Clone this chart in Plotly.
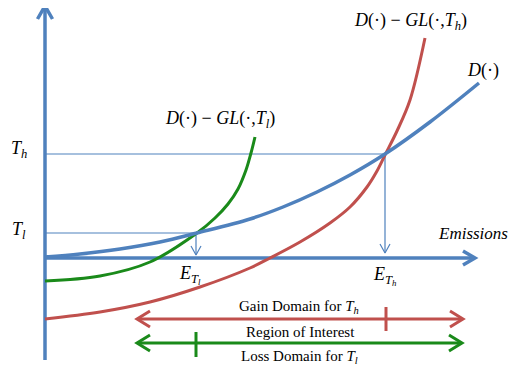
import plotly.graph_objects as go

# ---- data (pixel-like diagram coordinates) ----
d_x = [45, 80, 120, 160, 197, 250, 283, 317, 350, 385, 430, 479]
d_y = [257, 254, 249, 242, 233, 219, 207, 192, 175, 154, 122, 83]

gl_l_x = [45, 100, 150, 197, 215, 228, 238, 246, 251, 255]
gl_l_y = [281, 276, 262, 233, 218, 204, 189, 170, 153, 137]

gl_h_x = [45, 100, 150, 200, 250, 270, 300, 330, 350, 367, 377, 385, 397, 410, 425]
gl_h_y = [319, 312, 302, 287, 268, 258, 242, 223, 207, 187, 171, 155, 131, 100, 38]

origin = (45, 258)
x_axis_end = 475
y_axis_top = 6
y_axis_bottom = 360
t_h_level = 154
t_l_level = 233
e_t_h = 385
e_t_l = 196

gain_y, gain_x0, gain_x1, gain_tick = 319, 137, 463, 386
loss_y, loss_x0, loss_x1, loss_tick = 343, 137, 462, 196

BLUE = "#4F81BD"
RED = "#C0504D"
GREEN = "#1A8A1A"
FONT = "Liberation Serif"
PAGE_OFFSET = 8  # browser body margin

fig = go.Figure()


def line(xs, ys, color, width, shape="linear"):
    fig.add_trace(go.Scatter(x=xs, y=ys, mode="lines",
                             line=dict(color=color, width=width, shape=shape),
                             hoverinfo="skip", showlegend=False))


def chevron(tx, ty, dx, dy, L, W, color, width):
    px, py = -dy, dx
    xs = [tx - L * dx + W * px, tx, tx - L * dx - W * px]
    ys = [ty - L * dy + W * py, ty, ty - L * dy - W * py]
    line(xs, ys, color, width)


# guide lines
line([origin[0], e_t_h, e_t_h], [t_h_level, t_h_level, 253], BLUE, 1.2)
line([origin[0], e_t_l, e_t_l], [t_l_level, t_l_level, 255], BLUE, 1.2)
chevron(e_t_h, 253, 0, 1, 9, 5, BLUE, 1.2)
chevron(e_t_l, 255, 0, 1, 9, 5, BLUE, 1.2)

# axes
line([origin[0], origin[0]], [y_axis_bottom, y_axis_top + 1], BLUE, 3.5)
chevron(origin[0], y_axis_top, 0, -1, 13, 7.5, BLUE, 3.5)
line([origin[0], x_axis_end - 1], [origin[1], origin[1]], BLUE, 3.5)
chevron(x_axis_end, origin[1], 1, 0, 12, 7, BLUE, 3.5)

# curves
line(gl_h_x, gl_h_y, RED, 3, "spline")
line(gl_l_x, gl_l_y, GREEN, 3, "spline")
line(d_x, d_y, BLUE, 3.5, "spline")

# domain arrows
line([gain_x0 + 1, gain_x1 - 1], [gain_y, gain_y], RED, 3)
chevron(gain_x0, gain_y, -1, 0, 13, 8, RED, 3)
chevron(gain_x1, gain_y, 1, 0, 13, 8, RED, 3)
line([gain_tick, gain_tick], [gain_y - 12, gain_y + 12], RED, 3)

line([loss_x0 + 1, loss_x1 - 1], [loss_y, loss_y], GREEN, 3)
chevron(loss_x0, loss_y, -1, 0, 13, 8, GREEN, 3)
chevron(loss_x1, loss_y, 1, 0, 13, 8, GREEN, 3)
line([loss_tick, loss_tick], [loss_y - 11, loss_y + 14], GREEN, 3)


def text(x, y, s, size=14, xanchor="center"):
    fig.add_annotation(x=x, y=y, text=s, showarrow=False, xanchor=xanchor,
                       yanchor="middle", font=dict(family=FONT, size=size, color="black"))


text(410, 21, "<i>D</i>(·) − <i>GL</i>(·,<i>T<sub>h</sub></i>)", 18)
text(483, 70, "<i>D</i>(·)", 18)
text(220, 119, "<i>D</i>(·) − <i>GL</i>(·,<i>T<sub>l</sub></i>)", 18)
text(19, 149, "<i>T<sub>h</sub></i>", 18)
text(19, 230, "<i>T<sub>l</sub></i>", 18)
text(436, 233, "<i>Emissions</i>", 17, xanchor="left")
text(190, 275, "<i>E<sub>T<sub>l</sub></sub></i>", 18)
text(385, 276, "<i>E<sub>T<sub>h</sub></sub></i>", 18)
text(299, 307, "Gain Domain for <i>T<sub>h</sub></i>", 15)
text(300, 332, "Region of Interest", 15)
text(299, 357, "Loss Domain for <i>T<sub>l</sub></i>", 15)

W, H = 516, 368
fig.update_layout(width=W - PAGE_OFFSET, height=H - PAGE_OFFSET,
                  margin=dict(l=0, r=0, t=0, b=0),
                  paper_bgcolor="white", plot_bgcolor="white")
fig.update_xaxes(range=[PAGE_OFFSET, W], visible=False, fixedrange=True)
fig.update_yaxes(range=[H, PAGE_OFFSET], visible=False, fixedrange=True)

fig.write_html("out.html")
